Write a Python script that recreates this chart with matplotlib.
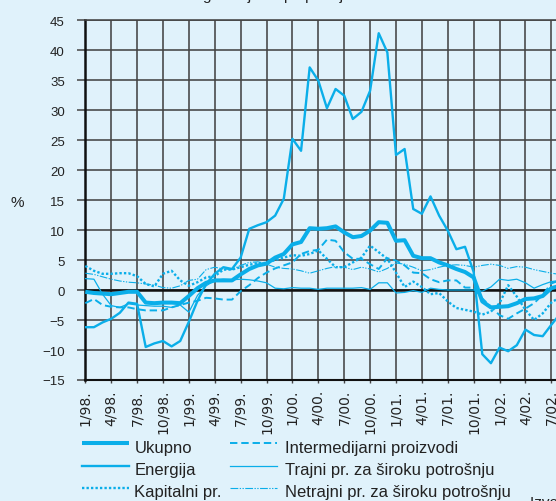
import matplotlib
matplotlib.use('Agg')
import matplotlib.pyplot as plt
from matplotlib.lines import Line2D

plt.rcParams['font.family'] = ['Liberation Sans', 'DejaVu Sans']

# ---------------- data (monthly, 1/98 .. 8/02) ----------------
tick_labels = ['1/98.', '4/98.', '7/98.', '10/98.', '1/99.', '4/99.', '7/99.', '10/99.',
               '1/00.', '4/00.', '7/00.', '10/00.', '1/01.', '4/01.', '7/01.', '10/01.',
               '1/02.', '4/02.', '7/02.']
months = list(range(56))

ukupno = [-0.3, -0.5, -0.6, -0.7, -0.5, -0.3, -0.3, -2.1, -2.2, -2.1, -2.1, -2.2,
          -1.0, 0.3, 1.2, 1.6, 1.6, 1.6, 2.6, 3.5, 4.1, 4.4, 5.4, 6.0,
          7.6, 8.0, 10.3, 10.2, 10.3, 10.6, 9.6, 8.8, 9.0, 9.9, 11.3, 11.2,
          8.2, 8.3, 5.7, 5.3, 5.3, 4.6, 4.1, 3.5, 3.0, 2.1, -1.9, -2.9,
          -2.8, -2.7, -2.2, -1.5, -1.4, -1.0, 0.3, 0.7]

energija = [-6.2, -6.2, -5.4, -4.8, -3.8, -2.1, -2.3, -9.5, -8.9, -8.5, -9.4, -8.5,
            -5.3, -1.8, 1.0, 2.7, 3.8, 3.5, 5.4, 10.2, 10.8, 11.3, 12.4, 15.2,
            25.2, 23.2, 37.1, 34.9, 30.3, 33.5, 32.4, 28.5, 29.7, 33.2, 42.8, 39.6,
            22.5, 23.5, 13.5, 12.7, 15.6, 12.4, 9.9, 6.8, 7.2, 3.0, -10.7, -12.2,
            -9.6, -10.2, -9.2, -6.6, -7.5, -7.7, -5.8, -4.0]

kapitalni = [4.0, 3.2, 2.7, 2.7, 2.8, 2.8, 2.3, 1.0, 0.6, 2.7, 3.2, 1.6,
             0.7, 1.3, 2.1, 2.3, 3.4, 3.4, 3.8, 4.2, 4.5, 4.5, 5.0, 5.4,
             5.8, 5.7, 6.0, 6.6, 5.2, 3.8, 3.8, 4.6, 5.4, 7.4, 6.3, 5.2,
             2.9, 0.5, 1.4, 0.5, -0.7, -0.5, -1.9, -3.0, -3.3, -3.6, -4.1, -3.6,
             -2.2, 0.8, -1.1, -3.3, -5.0, -3.9, -2.1, -1.2]

intermedijarni = [-2.2, -1.5, -2.5, -2.8, -2.9, -2.9, -3.2, -3.4, -3.4, -3.4, -2.9, -2.5,
                  -2.1, -1.8, -1.3, -1.4, -1.6, -1.6, -0.2, 0.8, 2.0, 2.9, 3.6, 4.1,
                  4.6, 6.0, 6.5, 6.7, 8.4, 8.2, 6.3, 5.2, 5.2, 4.3, 3.5, 5.3,
                  4.9, 4.1, 2.9, 2.8, 1.8, 1.3, 1.6, 1.6, 0.4, 0.4, -1.4, -2.8,
                  -4.2, -4.8, -3.9, -3.1, -2.2, -0.8, 1.1, 1.6]

trajni = [1.9, 1.8, -0.7, -2.6, -2.9, -2.3, -2.5, -2.6, -2.7, -2.7, -2.9, -2.5,
          -3.7, -0.9, 0.7, 1.6, 1.8, 1.7, 1.8, 1.7, 1.5, 1.2, 0.3, 0.2,
          0.4, 0.3, 0.3, 0.1, 0.3, 0.3, 0.3, 0.3, 0.4, 0.1, 1.2, 1.2,
          -0.5, -0.4, -0.1, -0.4, 0.3, 0.1, 0.0, 0.0, 0.0, 0.0, -0.2, 0.5,
          1.8, 1.6, 1.8, 1.2, 0.3, 0.9, 1.4, 1.6]

netrajni = [2.8, 2.6, 2.2, 1.8, 1.5, 1.3, 1.2, 1.0, 0.8, 0.4, 0.3, 0.7,
            1.6, 1.8, 3.4, 3.8, 3.5, 3.4, 4.1, 4.6, 4.7, 4.3, 3.8, 3.6,
            3.5, 3.2, 2.8, 3.2, 3.6, 3.9, 3.8, 3.4, 3.8, 3.5, 3.0, 3.6,
            4.5, 4.3, 3.8, 3.2, 3.4, 3.8, 4.1, 4.2, 4.1, 3.8, 4.1, 4.3,
            4.1, 3.6, 3.9, 3.8, 3.4, 3.1, 2.8, 2.6]

series_names = ['Ukupno', 'Energija', 'Kapitalni pr.', 'Intermedijarni proizvodi',
                'Trajni pr. za široku potrošnju', 'Netrajni pr. za široku potrošnju']
series_values = [ukupno, energija, kapitalni, intermedijarni, trajni, netrajni]

# ---------------- styling ----------------
W, H = 556, 502
BG = '#e0f2fb'
LC = '#0aaee9'
GRID = '#444444'
TXT = '#222222'

styles = [
    dict(lw=2.9, ls='-', solid_capstyle='butt'),
    dict(lw=1.7, ls='-'),
    dict(lw=1.7, ls=(0, (1.0, 0.9))),
    dict(lw=1.4, ls=(0, (3.8, 2.0))),
    dict(lw=0.9, ls='-'),
    dict(lw=0.8, ls=(0, (7, 1.3, 1.2, 1.3, 1.2, 1.3))),
]

fig = plt.figure(figsize=(W / 100, H / 100), dpi=100)
fig.patch.set_facecolor(BG)

x0px, pxm = 85.3, 8.63
xmax = 56
ax = fig.add_axes([x0px / W, 1 - 381 / H, xmax * pxm / W, 360 / H])
ax.set_facecolor(BG)
ax.set_xlim(0, xmax)
ax.set_ylim(-15, 45)

ax.set_xticks(range(0, 55, 3))
ax.set_xticklabels(tick_labels, rotation=90, fontsize=10, color=TXT,
                   family=['DejaVu Sans'])
yt = list(range(-15, 50, 5))
ax.set_yticks(yt)
ax.set_yticklabels([str(v).replace('-', '\u2212') for v in yt], fontsize=9.5, color=TXT)

ax.grid(True, color=GRID, lw=1.15, zorder=1)
ax.set_axisbelow(True)
ax.tick_params(axis='x', length=2.5, width=1.0, color=GRID, pad=4)
ax.tick_params(axis='y', length=5.8, width=1.1, color=GRID, pad=9)

for s in ['top', 'right']:
    ax.spines[s].set_color(GRID)
    ax.spines[s].set_linewidth(1.15)
ax.spines['left'].set_color('#111111')
ax.spines['left'].set_linewidth(1.8)
ax.spines['bottom'].set_color('#111111')
ax.spines['bottom'].set_linewidth(1.5)
ax.axhline(0, color='#111111', lw=1.8, zorder=2)

order = [4, 5, 3, 2, 1, 0]
for i in order:
    ax.plot(months, series_values[i], color=LC, zorder=5 if i == 0 else 3, **styles[i])

# percentage label
fig.text(17 / W, 1 - 203 / H, '%', fontsize=11, ha='center', va='center', color=TXT)

# legend (manual layout)
cols = [(81.7, 129.3, 134.3), (230, 277, 285)]
rows_line = [444, 466.7, 489.3]
rows_text = [453.3, 475.3, 497.3]
for k, name in enumerate(series_names):
    c, r = divmod(k, 3)
    xa, xb, xt = cols[c]
    yl = 1 - rows_line[r] / H
    ln = Line2D([xa / W, xb / W], [yl, yl], color=LC, transform=fig.transFigure,
                **styles[k])
    fig.add_artist(ln)
    fig.text(xt / W, 1 - rows_text[r] / H, name, fontsize=12, ha='left',
             va='baseline', color=TXT)

# partially visible title and source note (cut by the figure edges, as in the original)
fig.text(203 / W, 1.0, 'godišnje stope promjene', fontsize=11, ha='left',
         va='baseline', color=TXT)
fig.text(530 / W, 1 - 507 / H, 'Izvor: DZS', fontsize=11, ha='left', va='baseline',
         color=TXT)

fig.savefig('out.png', dpi=100, facecolor=BG)
